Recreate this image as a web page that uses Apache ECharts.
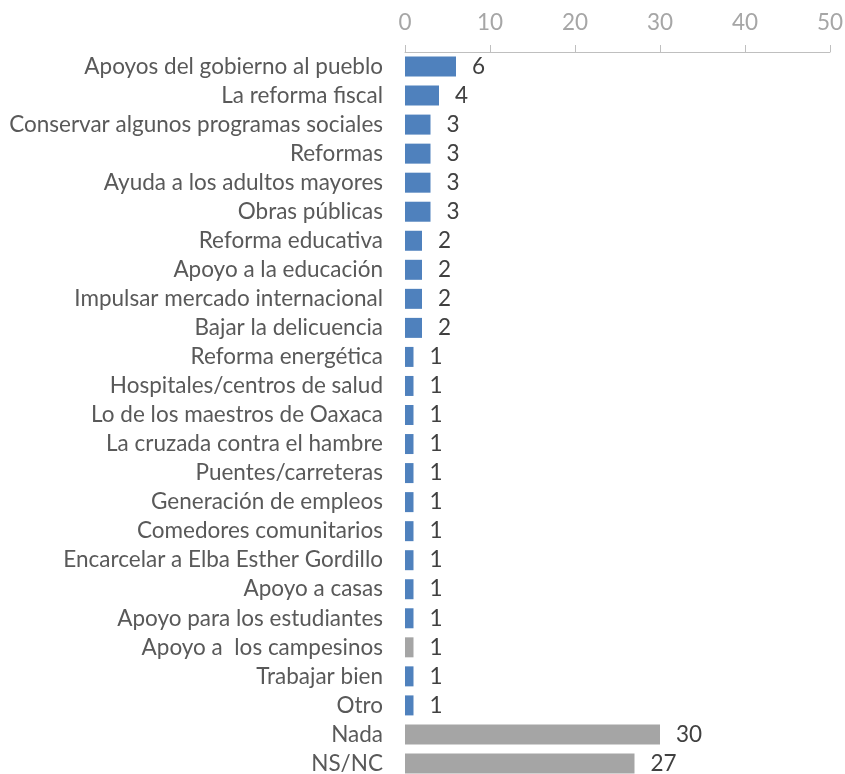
<!DOCTYPE html>
<html>
<head>
<meta charset="utf-8">
<script src="https://cdn.jsdelivr.net/npm/echarts@6/dist/echarts.min.js"></script>
<style>
  html, body { margin: 0; padding: 0; background: #fff; }
  #chart { width: 845px; height: 774px; }
</style>
</head>
<body>
<div id="chart"></div>
<script>
  // categorías, de arriba hacia abajo
  const categories = [
    "Apoyos del gobierno al pueblo",
    "La reforma fiscal",
    "Conservar algunos programas sociales",
    "Reformas",
    "Ayuda a los adultos mayores",
    "Obras públicas",
    "Reforma educativa",
    "Apoyo a la educación",
    "Impulsar mercado internacional",
    "Bajar la delicuencia",
    "Reforma energética",
    "Hospitales/centros de salud",
    "Lo de los maestros de Oaxaca",
    "La cruzada contra el hambre",
    "Puentes/carreteras",
    "Generación de empleos",
    "Comedores comunitarios",
    "Encarcelar a Elba Esther Gordillo",
    "Apoyo a casas",
    "Apoyo para los estudiantes",
    "Apoyo a  los campesinos",
    "Trabajar bien",
    "Otro",
    "Nada",
    "NS/NC",
  ];
  const values = [6, 4, 3, 3, 3, 3, 2, 2, 2, 2, 1, 1, 1, 1, 1, 1, 1, 1, 1, 1, 1, 1, 1, 30, 27];
  // categorías que van en gris
  const grayCategories = ["Apoyo a  los campesinos", "Nada", "NS/NC"];
  const xTicks = [0, 10, 20, 30, 40, 50];

  const blue = "#4f81bd";
  const gray = "#a5a5a5";
  const font = "Lato";
  const fontSize = 22.5;

  var myChart = echarts.init(document.getElementById("chart"));

  const barData = values.map(function (v, i) {
    return {
      value: v,
      itemStyle: {
        color: grayCategories.indexOf(categories[i]) >= 0 ? gray : blue,
      },
    };
  });

  const option = {
    backgroundColor: "#ffffff",
    animation: false,
    grid: {
      left: 405,
      right: 15,
      top: 52,
      bottom: -4,
      outerBoundsMode: "none",
    },
    xAxis: {
      type: "value",
      position: "top",
      min: xTicks[0],
      max: xTicks[xTicks.length - 1],
      interval: 10,
      axisLine: { show: true, lineStyle: { color: "#bfbfbf", width: 1 } },
      axisTick: { show: true, inside: false, length: 7, lineStyle: { color: "#bfbfbf" } },
      splitLine: { show: false },
      axisLabel: {
        margin: 18,
        color: "#a6a6a6",
        fontSize: fontSize,
        fontFamily: font,
      },
    },
    yAxis: {
      type: "category",
      inverse: true,
      data: categories,
      axisLine: { show: false },
      axisTick: { show: false },
      axisLabel: {
        interval: 0,
        hideOverlap: false,
        margin: 22,
        color: "#595959",
        fontSize: fontSize,
        fontFamily: font,
      },
    },
    series: [
      {
        type: "bar",
        data: barData,
        barWidth: 20,
        label: {
          show: true,
          position: "right",
          distance: 16,
          color: "#404040",
          fontSize: fontSize,
          fontFamily: font,
        },
      },
    ],
  };

  myChart.setOption(option, true);

  window.onresize = function () {
    myChart.resize();
  };
</script>
</body>
</html>
